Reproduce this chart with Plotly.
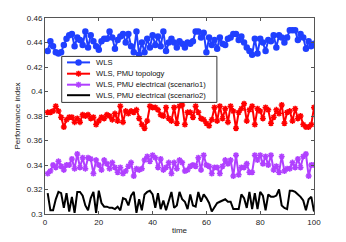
import plotly.graph_objects as go

time = list(range(1, 101))

wls = [0.433, 0.441, 0.437, 0.432, 0.431, 0.432, 0.438, 0.443, 0.446, 0.447,
       0.437, 0.444, 0.442, 0.438, 0.449, 0.436, 0.446, 0.441, 0.437, 0.434,
       0.441, 0.443, 0.443, 0.449, 0.444, 0.435, 0.442, 0.445, 0.447, 0.440,
       0.447, 0.437, 0.432, 0.449, 0.430, 0.440, 0.432, 0.443, 0.436, 0.446,
       0.438, 0.445, 0.437, 0.449, 0.433, 0.440, 0.443, 0.440, 0.436, 0.441,
       0.439, 0.436, 0.440, 0.439, 0.441, 0.449, 0.449, 0.444, 0.448, 0.432,
       0.444, 0.438, 0.442, 0.435, 0.444, 0.439, 0.438, 0.443, 0.444, 0.447,
       0.447, 0.442, 0.445, 0.440, 0.436, 0.433, 0.430, 0.443, 0.431, 0.443,
       0.440, 0.433, 0.442, 0.441, 0.446, 0.436, 0.446, 0.444, 0.440, 0.444,
       0.450, 0.450, 0.450, 0.442, 0.447, 0.444, 0.435, 0.441, 0.437, 0.439]

pmu_topology = [0.383, 0.383, 0.384, 0.388, 0.384, 0.379, 0.371, 0.377, 0.379, 0.379,
                0.375, 0.378, 0.375, 0.381, 0.380, 0.381, 0.378, 0.379, 0.373, 0.376,
                0.379, 0.378, 0.381, 0.380, 0.377, 0.382, 0.376, 0.388, 0.375, 0.384,
                0.382, 0.384, 0.383, 0.385, 0.378, 0.373, 0.370, 0.376, 0.388, 0.387,
                0.387, 0.385, 0.381, 0.380, 0.387, 0.378, 0.376, 0.387, 0.374, 0.388,
                0.389, 0.373, 0.383, 0.383, 0.379, 0.388, 0.383, 0.378, 0.377, 0.374,
                0.372, 0.377, 0.387, 0.376, 0.388, 0.378, 0.386, 0.375, 0.388, 0.384,
                0.370, 0.383, 0.386, 0.390, 0.376, 0.385, 0.388, 0.373, 0.386, 0.384,
                0.378, 0.387, 0.385, 0.374, 0.379, 0.385, 0.382, 0.389, 0.374, 0.383,
                0.384, 0.376, 0.386, 0.378, 0.380, 0.373, 0.371, 0.371, 0.373, 0.387]

pmu_scenario1 = [0.333, 0.335, 0.340, 0.338, 0.343, 0.339, 0.336, 0.340, 0.340, 0.345,
                 0.337, 0.349, 0.338, 0.346, 0.337, 0.346, 0.345, 0.333, 0.344, 0.340,
                 0.336, 0.344, 0.341, 0.337, 0.342, 0.338, 0.334, 0.338, 0.333, 0.335,
                 0.339, 0.342, 0.331, 0.337, 0.336, 0.337, 0.344, 0.347, 0.343, 0.348,
                 0.346, 0.338, 0.345, 0.336, 0.338, 0.342, 0.333, 0.342, 0.337, 0.344,
                 0.342, 0.335, 0.336, 0.339, 0.340, 0.339, 0.346, 0.336, 0.348, 0.340,
                 0.339, 0.333, 0.338, 0.338, 0.333, 0.339, 0.344, 0.341, 0.344, 0.331,
                 0.348, 0.332, 0.338, 0.338, 0.341, 0.334, 0.334, 0.348, 0.344, 0.348,
                 0.341, 0.347, 0.340, 0.348, 0.336, 0.339, 0.334, 0.347, 0.335, 0.337,
                 0.337, 0.342, 0.338, 0.345, 0.338, 0.347, 0.349, 0.331, 0.340, 0.340]

pmu_scenario2 = [0.317, 0.303, 0.303, 0.312, 0.318, 0.317, 0.305, 0.317, 0.302, 0.314,
                 0.301, 0.318, 0.318, 0.315, 0.307, 0.303, 0.313, 0.318, 0.301, 0.319,
                 0.309, 0.306, 0.306, 0.305, 0.305, 0.304, 0.306, 0.303, 0.313, 0.312,
                 0.307, 0.315, 0.318, 0.301, 0.312, 0.303, 0.316, 0.318, 0.319, 0.316,
                 0.305, 0.317, 0.304, 0.311, 0.303, 0.310, 0.318, 0.305, 0.307, 0.318,
                 0.312, 0.310, 0.304, 0.316, 0.307, 0.306, 0.318, 0.310, 0.316, 0.313,
                 0.309, 0.302, 0.306, 0.309, 0.310, 0.311, 0.312, 0.310, 0.310, 0.304,
                 0.304, 0.304, 0.316, 0.313, 0.305, 0.318, 0.304, 0.317, 0.304, 0.318,
                 0.315, 0.303, 0.316, 0.314, 0.314, 0.315, 0.320, 0.307, 0.305, 0.304,
                 0.319, 0.319, 0.318, 0.316, 0.314, 0.311, 0.303, 0.312, 0.314, 0.302]

names = ["WLS", "WLS, PMU topology", "WLS, PMU electrical (scenario1)",
         "WLS, PMU electrical (scenario2)"]
x_ticks = [0, 20, 40, 60, 80, 100]
y_ticks = [0.30, 0.32, 0.34, 0.36, 0.38, 0.40, 0.42, 0.44, 0.46]
y_tick_labels = ["0.3", "0.32", "0.34", "0.36", "0.38", "0.4", "0.42", "0.44", "0.46"]

colors = ["#2040ff", "#ff0000", "#b040ff", "#000000"]
symbols = ["circle", "asterisk-open", "asterisk-open", None]
msizes = [5, 5, 5, 0]
series = [wls, pmu_topology, pmu_scenario1, pmu_scenario2]

W, H = 346, 242
# plot-area edges in pixels
PX0, PX1, PY0, PY1 = 45, 313.7, 18.3, 214.3
L, T, R, B = PX0, PY0, W - PX1, H - PY1

fig = go.Figure()
for name, vals, c, sym, ms in zip(names, series, colors, symbols, msizes):
    if sym is None:
        fig.add_trace(go.Scatter(x=time, y=vals, name=name, mode="lines",
                                 line=dict(color=c, width=2), showlegend=False))
    else:
        fig.add_trace(go.Scatter(x=time, y=vals, name=name, mode="lines+markers",
                                 line=dict(color=c, width=2), showlegend=False,
                                 marker=dict(symbol=sym, size=ms, color=c,
                                             line=dict(color=c, width=1.5))))

# --- manual compact legend box (pixel coordinates on an overlay axis pair)
bx0, bx1, by0, by1 = 61.7, 216.7, 56.7, 102.7
row_y = [62.7, 74.0, 85.0, 95.5]
line_x0, line_x1, text_x = 67, 90, 93.5

fig.add_trace(go.Scatter(x=[bx0, bx1, bx1, bx0, bx0], y=[by0, by0, by1, by1, by0],
                         xaxis="x2", yaxis="y2", mode="lines", fill="toself",
                         fillcolor="white", line=dict(color="#333", width=1),
                         showlegend=False, hoverinfo="skip"))
annotations = []
for name, c, sym, ms, y in zip(names, colors, symbols, msizes, row_y):
    fig.add_trace(go.Scatter(x=[line_x0, line_x1], y=[y, y], xaxis="x2", yaxis="y2",
                             mode="lines", line=dict(color=c, width=2),
                             showlegend=False, hoverinfo="skip"))
    if sym is not None:
        fig.add_trace(go.Scatter(x=[(line_x0 + line_x1) / 2], y=[y], xaxis="x2", yaxis="y2",
                                 mode="markers", showlegend=False, hoverinfo="skip",
                                 marker=dict(symbol=sym, size=ms, color=c,
                                             line=dict(color=c, width=1.5))))
    annotations.append(dict(xref="x2", yref="y2", x=text_x, y=y, text=name,
                            showarrow=False, xanchor="left", yanchor="middle",
                            font=dict(size=7.6, color="#111")))

axis_common = dict(showline=True, linecolor="#555", linewidth=1, mirror="ticks",
                   ticks="inside", ticklen=3, tickcolor="#555", showgrid=False,
                   zeroline=False, tickfont=dict(size=8, color="#222"), automargin=False)

fig.update_layout(
    width=W, height=H,
    margin=dict(l=L, r=R, t=T, b=B),
    paper_bgcolor="white", plot_bgcolor="white",
    font=dict(family="Liberation Sans, Arial, sans-serif", size=8, color="#222"),
    xaxis=dict(range=[0, 100], tickvals=x_ticks,
               title=dict(text="time", font=dict(size=8), standoff=1), **axis_common),
    yaxis=dict(range=[0.30, 0.46], tickvals=y_ticks, ticktext=y_tick_labels,
               title=dict(text="Performance index", font=dict(size=8), standoff=5),
               **axis_common),
    xaxis2=dict(range=[PX0, PX1], overlaying="x", visible=False, fixedrange=True),
    yaxis2=dict(range=[PY1, PY0], overlaying="y", visible=False, fixedrange=True),
    annotations=annotations,
    showlegend=False,
)

fig.write_html(
    "out.html",
    config={"displayModeBar": False, "staticPlot": True},
    post_script="document.body.style.margin='0';"
                "document.documentElement.style.overflow='hidden';",
)
